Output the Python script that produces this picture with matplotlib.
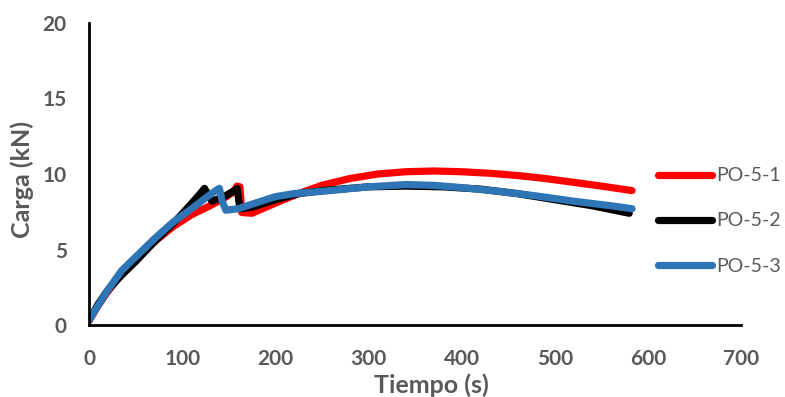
import matplotlib
matplotlib.use("Agg")
import matplotlib.pyplot as plt

# Load-time curves for the three PO-5 specimens
t_po51 = [0, 10, 20, 35, 50, 70, 90, 110, 130, 145, 155, 159, 162, 164, 175, 190,
          205, 225, 250, 280, 310, 340, 370, 400, 430, 460, 490, 520, 550, 583]
f_po51 = [0.3, 1.3, 2.2, 3.4, 4.3, 5.5, 6.5, 7.3, 7.9, 8.4, 8.8, 9.2, 9.15, 7.45, 7.4, 7.8,
          8.2, 8.7, 9.25, 9.7, 10.0, 10.15, 10.2, 10.15, 10.05, 9.9, 9.7, 9.45, 9.2, 8.9]

t_po52 = [0, 10, 20, 35, 50, 70, 90, 105, 118, 124, 128, 132, 145, 156, 159, 162, 175,
          200, 225, 250, 300, 340, 380, 420, 460, 500, 540, 580]
f_po52 = [0.3, 1.4, 2.3, 3.3, 4.2, 5.5, 6.7, 7.7, 8.6, 9.05, 8.6, 8.2, 8.5, 8.9, 9.05, 7.7, 7.8,
          8.3, 8.7, 8.9, 9.15, 9.2, 9.15, 9.0, 8.7, 8.3, 7.9, 7.4]

t_po53 = [0, 10, 20, 35, 50, 70, 90, 110, 125, 136, 140, 143, 147, 160, 180, 200, 220,
          250, 300, 340, 370, 400, 440, 480, 520, 560, 583]
f_po53 = [0.35, 1.3, 2.3, 3.6, 4.5, 5.7, 6.8, 7.7, 8.4, 8.9, 9.05, 8.2, 7.6, 7.7, 8.1, 8.5, 8.7,
          8.85, 9.15, 9.3, 9.25, 9.1, 8.85, 8.55, 8.2, 7.9, 7.7]

series_names = ["PO-5-1", "PO-5-2", "PO-5-3"]
series_colors = ["#FF0000", "#000000", "#2E75B6"]

x_ticks = [0, 100, 200, 300, 400, 500, 600, 700]
y_ticks = [0, 5, 10, 15, 20]

gray = "#595959"
plt.rcParams["font.family"] = ["Lato", "DejaVu Sans"]

W, H = 785, 397
fig = plt.figure(figsize=(W / 100, H / 100), dpi=100)
ax = fig.add_axes([89 / W, 1 - 325 / H, (741 - 89) / W, (325 - 23) / H])

data = [(t_po51, f_po51), (t_po52, f_po52), (t_po53, f_po53)]
handles = []
for (t, f), name, col in zip(data, series_names, series_colors):
    h, = ax.plot(t, f, color=col, lw=5.2, solid_capstyle="round",
                 solid_joinstyle="round", label=name)
    handles.append(h)

ax.set_xlim(0, 700)
ax.set_ylim(0, 20)
ax.set_xticks(x_ticks)
ax.set_yticks(y_ticks)
ax.tick_params(length=0, labelsize=15, labelcolor=gray)
ax.tick_params(axis="x", pad=17)
ax.tick_params(axis="y", pad=16)
for lbl in ax.get_xticklabels() + ax.get_yticklabels():
    lbl.set_fontweight("bold")

for side in ("top", "right"):
    ax.spines[side].set_visible(False)
for side in ("left", "bottom"):
    ax.spines[side].set_linewidth(2)
    ax.spines[side].set_color("black")

ax.set_xlabel("Tiempo (s)", fontsize=18, fontweight="bold", color=gray)
ax.set_ylabel("Carga (kN)", fontsize=18, fontweight="bold", color=gray)
ax.xaxis.set_label_coords((431 - 89) / 652, (325 - 373) / 302)
ax.yaxis.set_label_coords((34 - 89) / 652, (325 - 179) / 302)

fig.legend(handles=handles, labels=series_names, loc="center left",
           bbox_to_anchor=(658 / W, 1 - 221 / H), frameon=False,
           borderpad=0, borderaxespad=0,
           fontsize=14, labelcolor=gray, handlelength=2.8, handletextpad=0.2,
           labelspacing=1.45)

fig.savefig("out.png", dpi=100)
